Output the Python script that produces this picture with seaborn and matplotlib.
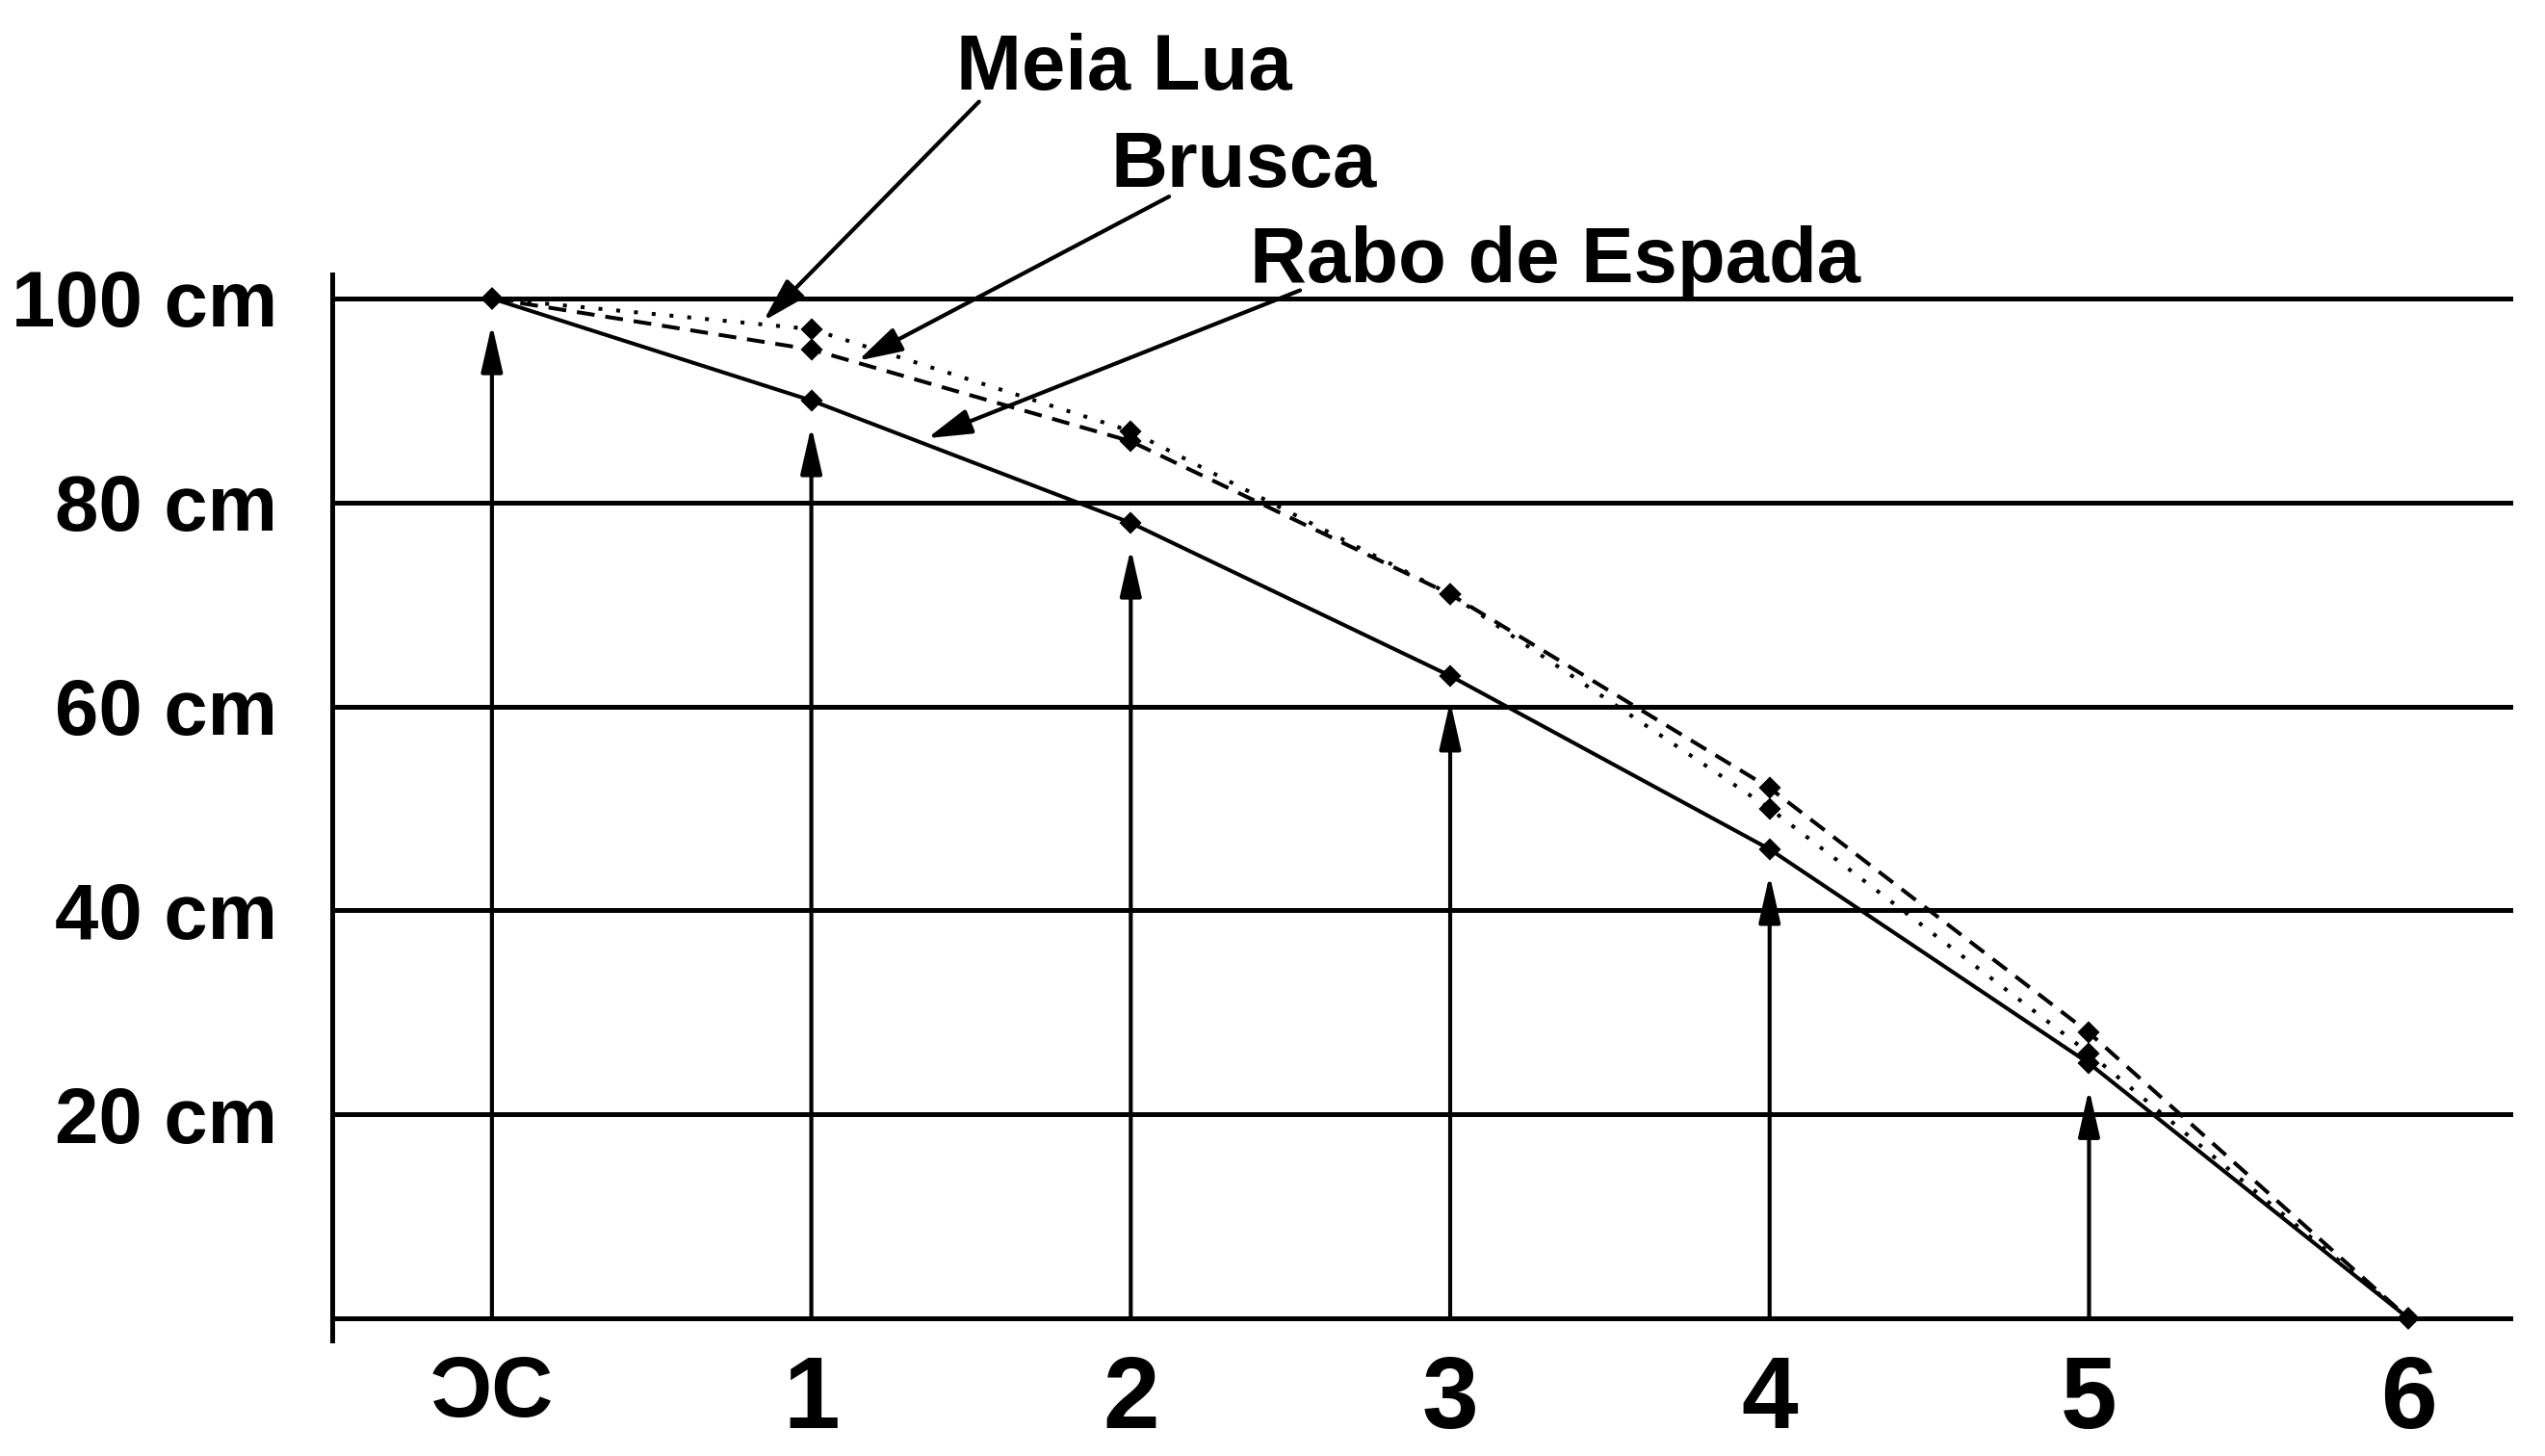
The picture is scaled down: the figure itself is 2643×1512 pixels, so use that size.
import pandas as pd
import matplotlib.pyplot as plt
import matplotlib.font_manager as fm
import seaborn as sns

# data
posicoes = [0, 1, 2, 3, 4, 5, 6]
x_labels = ["ƆC", "1", "2", "3", "4", "5", "6"]
meia_lua = [100, 97, 87, 71, 50, 26, 0]
brusca = [100, 95, 86, 71, 52, 28, 0]
rabo_de_espada = [100, 90, 78, 63, 46, 25, 0]
y_ticks = [0, 20, 40, 60, 80, 100]
y_labels = ["", "20 cm", "40 cm", "60 cm", "80 cm", "100 cm"]

# label text positions and arrow tips (data coords)
rotulos = {
    "Meia Lua": {"texto": (1.98, 120.5), "cauda": (1.525, 119.3), "ponta": (0.85, 97.8)},
    "Brusca": {"texto": (2.355, 111.0), "cauda": (2.12, 110.0), "ponta": (1.146, 93.9)},
    "Rabo de Espada": {"texto": (3.33, 101.6), "cauda": (2.53, 100.8), "ponta": (1.363, 86.3)},
}

df = pd.DataFrame({
    "posicao": posicoes * 3,
    "altura": meia_lua + brusca + rabo_de_espada,
    "variedade": ["Meia Lua"] * 7 + ["Brusca"] * 7 + ["Rabo de Espada"] * 7,
})

sns.set_style("white")

# the reference uses a narrow Arial; use Liberation Sans Narrow if present,
# otherwise plain Liberation Sans a bit smaller so widths stay close
nomes = {f.name for f in fm.fontManager.ttflist}
if "Liberation Sans Narrow" in nomes:
    familia, escala = "Liberation Sans Narrow", 1.0
else:
    familia, escala = "Liberation Sans", 0.8
plt.rcParams["font.family"] = [familia, "DejaVu Sans"]
plt.rcParams["font.weight"] = "bold"
for k in ["text.color", "xtick.color", "ytick.color", "axes.labelcolor"]:
    plt.rcParams[k] = "black"

W, H = 2643, 1512
fig = plt.figure(figsize=(W / 200, H / 200), dpi=200)
ax = fig.add_axes([345 / W, 1 - 1392 / H, (2610 - 345) / W, (1392 - 285) / H])

sns.lineplot(
    data=df, x="posicao", y="altura", style="variedade",
    dashes={"Meia Lua": (1, 3.6), "Brusca": (4.6, 2.8), "Rabo de Espada": ""},
    markers={"Meia Lua": "D", "Brusca": "D", "Rabo de Espada": "D"},
    color="black", linewidth=1.45, markersize=5.2,
    markeredgecolor="black", markeredgewidth=0.8,
    legend=False, ax=ax, zorder=3,
)

# vertical arrows under the solid series
for x, y in zip(posicoes[:-1], rabo_de_espada[:-1]):
    ax.annotate("", xy=(x, y - 2.5), xytext=(x, 0),
                arrowprops=dict(arrowstyle="-|>,head_length=0.75,head_width=0.17",
                                color="black", lw=1.5, mutation_scale=20,
                                shrinkA=0, shrinkB=0))

# series labels with arrows
for nome, p in rotulos.items():
    ax.text(p["texto"][0], p["texto"][1], nome, ha="center", va="baseline",
            fontsize=36.7 * escala, fontweight="bold", clip_on=False)
    ax.annotate("", xy=p["ponta"], xytext=p["cauda"], annotation_clip=False,
                arrowprops=dict(arrowstyle="-|>,head_length=0.7,head_width=0.2",
                                color="black", lw=1.5, mutation_scale=20,
                                shrinkA=0, shrinkB=0))

ax.set_xlim(-0.5, 6.328)
ax.set_ylim(-2.17, 102.36)
ax.set_xticks(posicoes)
ax.set_xticklabels(x_labels, fontsize=38, fontweight="bold")
ax.get_xticklabels()[0].set_fontsize(32 * escala / 0.8 if escala < 1 else 34)
ax.set_yticks(y_ticks)
ax.set_yticklabels(y_labels, fontsize=36.7 * escala, fontweight="bold")
ax.tick_params(axis="x", length=0, pad=5)
ax.tick_params(axis="y", direction="out", length=9.7, width=1.8, pad=10.8, color="black")
ax.yaxis.grid(True, color="black", linewidth=1.8)
ax.xaxis.grid(False)
ax.set_xlabel("")
ax.set_ylabel("")
for s in ["top", "right", "bottom"]:
    ax.spines[s].set_visible(False)
ax.spines["left"].set_color("black")
ax.spines["left"].set_linewidth(1.8)

fig.savefig("out.png", dpi=200, facecolor="white")
